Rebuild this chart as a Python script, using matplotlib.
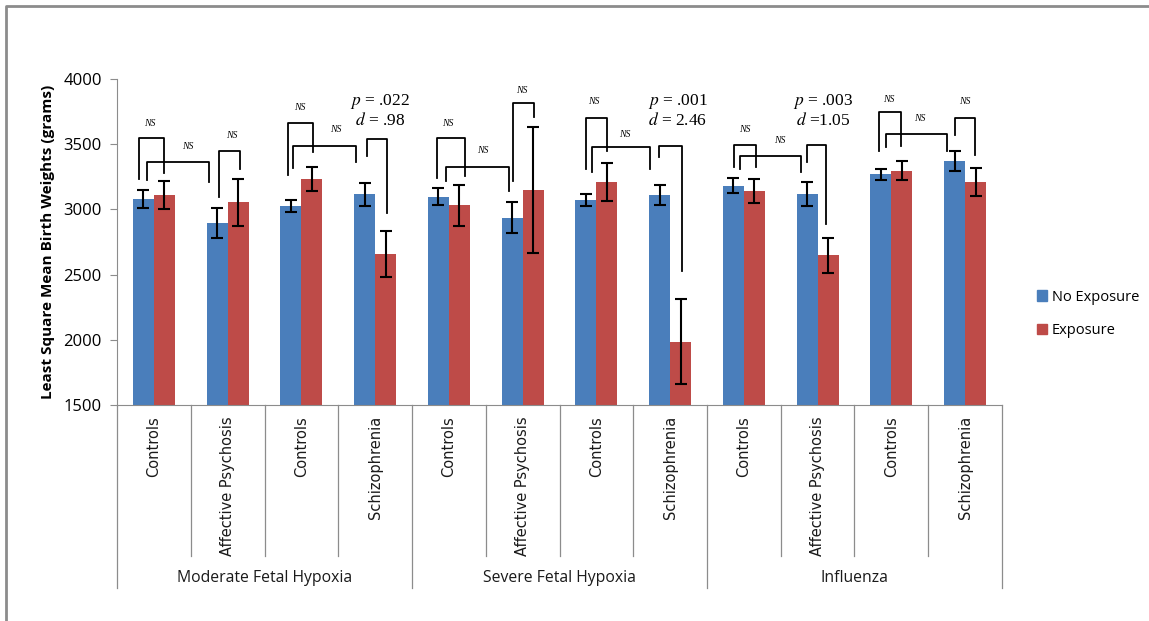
import matplotlib.pyplot as plt
import numpy as np
from matplotlib.lines import Line2D
from matplotlib.patches import Patch

plt.rcParams["mathtext.fontset"] = "stix"

# Données
categories = ["Controls", "Affective Psychosis", "Controls", "Schizophrenia",
              "Controls", "Affective Psychosis", "Controls", "Schizophrenia",
              "Controls", "Affective Psychosis", "Controls", "Schizophrenia"]
groupes = ["Moderate Fetal Hypoxia", "Severe Fetal Hypoxia", "Influenza"]
sans_exposition = [3080, 2895, 3028, 3116, 3098, 2935, 3072, 3110, 3182, 3116, 3268, 3372]
err_sans = [70, 118, 46, 88, 67, 119, 45, 80, 55, 92, 42, 76]
exposition = [3110, 3053, 3234, 2655, 3032, 3150, 3210, 1985, 3142, 2648, 3298, 3210]
err_expo = [110, 183, 92, 176, 156, 483, 145, 326, 92, 135, 72, 106]

# Crochets de comparaison : (x gauche, x droite, sommet, bas gauche, bas droite)
crochets = [
    (-0.20, 0.14, 3545, 3230, 3280), (-0.10, 0.75, 3361, 3225, 3212),
    (0.88, 1.17, 3451, 3097, 3307), (1.82, 2.16, 3666, 3264, 3443),
    (1.88, 2.74, 3488, 3315, 3361), (2.89, 3.16, 3543, 3411, 2975),
    (3.84, 4.22, 3545, 3237, 3256), (3.96, 4.81, 3328, 3220, 3143),
    (4.87, 5.16, 3818, 3220, 3711), (5.86, 6.15, 3703, 3310, 3451),
    (5.94, 6.73, 3476, 3289, 3310), (6.85, 7.16, 3488, 3399, 2525),
    (7.87, 8.17, 3491, 3322, 3322), (7.95, 8.78, 3411, 3310, 3284),
    (8.86, 9.12, 3491, 3361, 2885), (9.83, 10.13, 3749, 3451, 3486),
    (9.93, 10.75, 3580, 3476, 3448), (10.86, 11.14, 3703, 3573, 3417),
]
# Étiquettes NS : (x, y)
etiquettes_ns = [(-0.05, 3660), (0.46, 3486), (1.06, 3565), (1.98, 3785), (2.46, 3615),
                 (3.99, 3660), (4.46, 3448), (4.99, 3910), (5.96, 3826), (6.39, 3573),
                 (8.01, 3615), (8.48, 3531), (9.96, 3840), (10.38, 3694), (11.0, 3831)]
# Statistiques significatives : (x, p, d)
stats_sig = [(3.07, "$p$ = .022", "$d$ = .98"),
             (7.10, "$p$ = .001", "$d$ = 2.46"),
             (9.07, "$p$ = .003", "$d$ =1.05")]

bleu = "#4a7ebb"
rouge = "#be4b48"
gris = "#8c8c8c"

fig = plt.figure(figsize=(11.49, 6.21), dpi=100)
W, H = 1149, 621
x0, x1, ytop, ybas = 117, 1002, 79, 405
ax = fig.add_axes([x0 / W, 1 - ybas / H, (x1 - x0) / W, (ybas - ytop) / H])

x = np.arange(len(categories))
largeur = 0.285
ax.bar(x - largeur / 2, sans_exposition, largeur, color=bleu)
ax.bar(x + largeur / 2, exposition, largeur, color=rouge)
ax.errorbar(x - largeur / 2, sans_exposition, yerr=err_sans, fmt="none", ecolor="black",
            elinewidth=1.5, capsize=4, capthick=1.5)
ax.errorbar(x + largeur / 2, exposition, yerr=err_expo, fmt="none", ecolor="black",
            elinewidth=1.5, capsize=4, capthick=1.5)

for xa, xb, haut, ya, yb in crochets:
    ax.plot([xa, xa, xb, xb], [ya, haut, haut, yb], color="black", lw=1.3, clip_on=False)
for xn, yn in etiquettes_ns:
    ax.text(xn, yn, "NS", fontsize=7, style="italic", family="Liberation Serif",
            ha="center", va="center")
for xs, p, d in stats_sig:
    ax.text(xs, 3830, p, fontsize=12.5, family="Liberation Serif", ha="center", va="center")
    ax.text(xs, 3680, d, fontsize=12.5, family="Liberation Serif", ha="center", va="center")

ax.set_xlim(-0.5, len(categories) - 0.5)
ax.set_ylim(1500, 4000)
ax.set_yticks([1500, 2000, 2500, 3000, 3500, 4000])
ax.tick_params(axis="y", length=5, color=gris, labelsize=12, pad=6)
for lab in ax.get_yticklabels():
    lab.set_family("Open Sans")
ax.set_xticks([])
for s in ["top", "right"]:
    ax.spines[s].set_visible(False)
ax.spines["left"].set_color(gris)
ax.spines["bottom"].set_color(gris)
ax.set_ylabel("Least Square Mean Birth Weights (grams)", fontsize=11, fontweight="bold",
              family="Open Sans", labelpad=6)

# Axe catégoriel à deux niveaux
trans = ax.get_xaxis_transform()
def ypix(py):
    return (ybas - py) / (ybas - ytop)

for i in range(len(categories) + 1):
    bas = 588 if i % 4 == 0 else 556
    ax.add_line(Line2D([i - 0.5, i - 0.5], [0, ypix(bas)], transform=trans,
                       color=gris, lw=0.9, clip_on=False))
for i, c in enumerate(categories):
    ax.text(i, ypix(416), c, transform=trans, rotation=90, ha="center", va="top",
            fontsize=10.5, family="DejaVu Sans", color="#1a1a1a")
for g, nom in enumerate(groupes):
    ax.text(4 * g + 1.5, ypix(578), nom, transform=trans, ha="center", va="center",
            fontsize=11.3, family="Open Sans", color="#1a1a1a")

# Légende
leg = fig.legend(handles=[Patch(color=bleu, label="No Exposure"), Patch(color=rouge, label="Exposure")],
                 loc="center left", bbox_to_anchor=(1024 / W, 1 - 314 / H), frameon=False,
                 prop={"family": "Open Sans", "size": 10.5}, handlelength=0.7, handleheight=0.7,
                 handletextpad=0.3, labelspacing=1.3)

# Cadre extérieur
fig.add_artist(Line2D([6 / W, 6 / W, 1], [0, 1 - 6 / H, 1 - 6 / H], color=gris, lw=2))

fig.savefig("out.png", dpi=100)
